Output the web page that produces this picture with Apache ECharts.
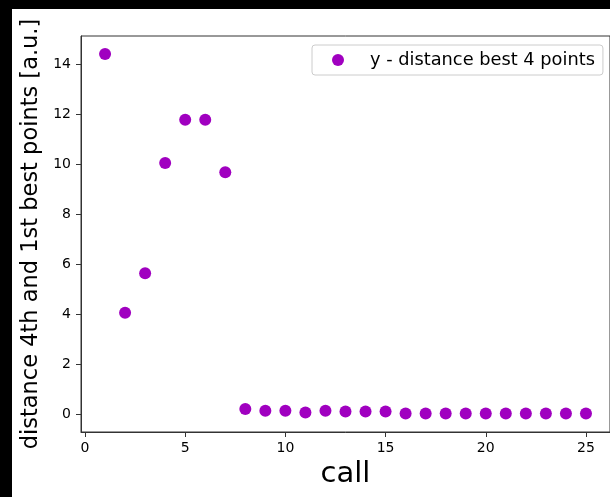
<!DOCTYPE html>
<html>
<head>
<meta charset="utf-8">
<script src="https://cdn.jsdelivr.net/npm/echarts@6/dist/echarts.min.js"></script>
<style>
  html, body { margin: 0; padding: 0; background: #ffffff; }
  #chart { width: 610px; height: 497px; }
</style>
</head>
<body>
<div id="chart"></div>
<script>
// call index of each evaluation
const calls = [1, 2, 3, 4, 5, 6, 7, 8, 9, 10, 11, 12, 13, 14, 15, 16, 17, 18, 19, 20, 21, 22, 23, 24, 25];
// distance between the 4th and 1st best points
const distances = [14.43, 4.06, 5.64, 10.06, 11.79, 11.79, 9.69, 0.2, 0.13, 0.13, 0.06, 0.13, 0.1, 0.1, 0.1,
                   0.02, 0.02, 0.02, 0.02, 0.02, 0.02, 0.02, 0.02, 0.02, 0.02];
const xTicks = [0, 5, 10, 15, 20, 25];
const yTicks = [0, 2, 4, 6, 8, 10, 12, 14];
const seriesName = 'y - distance best 4 points';

const points = calls.map((c, i) => [c, distances[i]]);
const font = 'DejaVu Sans';
const markColor = '#a000c0';

const chart = echarts.init(document.getElementById('chart'), null, { renderer: 'canvas' });
chart.setOption({
  backgroundColor: '#ffffff',
  animation: false,
  grid: {
    show: true, left: 81, top: 36, width: 529, height: 396,
    borderColor: '#333333', borderWidth: 1, backgroundColor: 'transparent'
  },
  legend: {
    data: [{ name: seriesName, icon: 'circle' }],
    left: 312, top: 45,
    itemWidth: 12, itemHeight: 12,
    padding: [6, 8, 6, 20],
    borderColor: '#cccccc', borderWidth: 1, borderRadius: 3,
    backgroundColor: '#ffffff',
    textStyle: { fontFamily: font, fontSize: 17.8, color: '#000000', padding: [0, 0, 0, 21] }
  },
  xAxis: {
    type: 'value', min: -0.2, max: 26.2,
    name: 'call', nameLocation: 'middle', nameGap: 27,
    nameTextStyle: { fontFamily: font, fontSize: 29, color: '#000000' },
    axisLine: { show: true, onZero: false, lineStyle: { color: '#333333', width: 1 } },
    axisTick: { show: true, inside: false, length: 5, customValues: xTicks, lineStyle: { color: '#333333' } },
    axisLabel: { customValues: xTicks, margin: 9, fontFamily: font, fontSize: 14, color: '#000000' },
    splitLine: { show: false }
  },
  yAxis: {
    type: 'value', min: -0.72, max: 15.15,
    name: 'distance 4th and 1st best points [a.u.]', nameLocation: 'middle', nameGap: 37, nameRotate: 90,
    nameTextStyle: { fontFamily: font, fontSize: 22.5, color: '#000000' },
    axisLine: { show: true, onZero: false, lineStyle: { color: '#333333', width: 1 } },
    axisTick: { show: true, inside: false, length: 5, customValues: yTicks, lineStyle: { color: '#333333' } },
    axisLabel: { customValues: yTicks, margin: 10, fontFamily: font, fontSize: 14, color: '#000000' },
    splitLine: { show: false }
  },
  graphic: [
    { type: 'rect', left: 0, top: 0, shape: { width: 610, height: 9 }, style: { fill: '#000000' }, z: 100 },
    { type: 'rect', left: 0, top: 0, shape: { width: 12, height: 497 }, style: { fill: '#000000' }, z: 100 }
  ],
  series: [{
    name: seriesName,
    type: 'scatter',
    data: points,
    symbol: 'circle',
    symbolSize: 12,
    itemStyle: { color: markColor, opacity: 1 }
  }]
});
</script>
</body>
</html>
